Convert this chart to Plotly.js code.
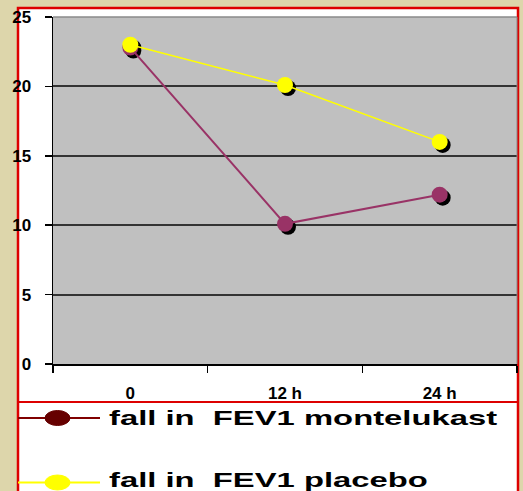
<!DOCTYPE html>
<html>
<head>
<meta charset="utf-8">
<script src="https://cdn.plot.ly/plotly-3.0.1.min.js"></script>
<style>
  html, body { margin: 0; padding: 0; background: #DDD6AB; }
  #chart { width: 523px; height: 491px; }
  .annotation-text { transform-box: fill-box; transform-origin: 0% 50%; transform: scaleX(1.64); }
</style>
</head>
<body>
<div id="chart"></div>
<script>
// ---- data ----
const times = ["0", "12 h", "24 h"];
const montelukast = [22.8, 10.1, 12.2];
const placebo = [23.0, 20.1, 16.0];
const seriesNames = ["fall in\u00a0 FEV1 montelukast", "fall in\u00a0 FEV1 placebo"];

// ---- layout helpers (pixel -> paper) ----
const W = 523, H = 491;
const L = 53, R = 6, T = 17, B = 127;
const pw = W - L - R, ph = H - T - B;
const px = x => (x - L) / pw;
const py = y => (H - B - y) / ph;

const yRange = [0, 25];
const xRange = [-0.5, 2.5];
const sdx = 3 * (xRange[1] - xRange[0]) / pw;   // shadow offset (3px right)
const sdy = 3 * (yRange[1] - yRange[0]) / ph;   // shadow offset (3px down)

const tickFont = {family: "Liberation Sans, Arial, sans-serif", size: 17, color: "#000", weight: 700};
const mColor = "#993366", pColor = "#FFFF00";

const data = [
  // invisible anchor trace so the visible axes (x, y) are drawn
  {x: times, y: montelukast, xaxis: "x", yaxis: "y", type: "scatter", mode: "markers",
   marker: {color: "rgba(0,0,0,0)", size: 1}, hoverinfo: "skip", showlegend: false},
  // shadows
  {x: times, y: montelukast, xaxis: "x2", yaxis: "y2", type: "scatter", mode: "markers",
   marker: {color: "#000", size: 16}, hoverinfo: "skip", showlegend: false},
  {x: times, y: placebo, xaxis: "x2", yaxis: "y2", type: "scatter", mode: "markers",
   marker: {color: "#000", size: 16}, hoverinfo: "skip", showlegend: false},
  // series
  {x: times, y: montelukast, xaxis: "x3", yaxis: "y3", type: "scatter", mode: "lines+markers",
   name: seriesNames[0], line: {color: mColor, width: 2}, marker: {color: mColor, size: 16}, showlegend: false},
  {x: times, y: placebo, xaxis: "x3", yaxis: "y3", type: "scatter", mode: "lines+markers",
   name: seriesNames[1], line: {color: pColor, width: 1.5}, marker: {color: pColor, size: 16}, showlegend: false}
];

const layout = {
  width: W, height: H,
  margin: {l: L, r: R, t: T, b: B, pad: 0},
  paper_bgcolor: "#DDD6AB",
  plot_bgcolor: "rgba(0,0,0,0)",
  showlegend: false,
  xaxis: {type: "category", categoryorder: "array", categoryarray: times, range: xRange,
    tickson: "boundaries", ticks: "outside", ticklen: 7, tickwidth: 1.5, tickcolor: "#000",
    showline: true, linecolor: "#000", linewidth: 1.5, showgrid: false, zeroline: false,
    tickfont: tickFont, ticklabelstandoff: 13, fixedrange: true},
  yaxis: {range: yRange, dtick: 5, tick0: 0, ticks: "outside", ticklen: 7, tickwidth: 1.5, tickcolor: "#000",
    showline: true, linecolor: "#000", linewidth: 1.5, showgrid: true, gridcolor: "#333333", gridwidth: 2,
    zeroline: false, tickfont: tickFont, ticklabelstandoff: 10, fixedrange: true},
  xaxis2: {type: "category", categoryorder: "array", categoryarray: times, overlaying: "x", anchor: "y2",
    range: [xRange[0] - sdx, xRange[1] - sdx], visible: false, fixedrange: true},
  yaxis2: {overlaying: "y", anchor: "x2", range: [yRange[0] + sdy, yRange[1] + sdy], visible: false, fixedrange: true},
  xaxis3: {type: "category", categoryorder: "array", categoryarray: times, overlaying: "x", anchor: "y3",
    range: xRange, visible: false, fixedrange: true},
  yaxis3: {overlaying: "y", anchor: "x3", range: yRange, visible: false, fixedrange: true},
  shapes: [
    {type: "rect", xref: "paper", yref: "paper", x0: px(18), x1: px(518), y0: py(505), y1: py(8),
     fillcolor: "#FFFFFF", line: {color: "#DD0000", width: 2.5}, layer: "below"},
    {type: "rect", xref: "paper", yref: "paper", x0: 0, x1: 1, y0: 0, y1: 1,
     fillcolor: "#C0C0C0", line: {width: 0}, layer: "below"},
    {type: "line", xref: "paper", yref: "paper", x0: 0, x1: 1, y0: 1, y1: 1,
     line: {color: "#8a8a8a", width: 1.5}, layer: "above"},
    {type: "line", xref: "paper", yref: "paper", x0: 1, x1: 1, y0: 0, y1: 1,
     line: {color: "#8a8a8a", width: 1}, layer: "above"},
    {type: "line", xref: "paper", yref: "paper", x0: px(17), x1: px(519), y0: py(402), y1: py(402),
     line: {color: "#DD0000", width: 2}, layer: "above"},
    // legend samples
    {type: "line", xref: "paper", yref: "paper", x0: px(18), x1: px(100), y0: py(418), y1: py(418),
     line: {color: "#800000", width: 2}, layer: "above"},
    {type: "circle", xref: "paper", yref: "paper", x0: px(45), x1: px(70), y0: py(425.5), y1: py(410.5),
     fillcolor: "#660000", line: {color: "#660000", width: 1}, layer: "above"},
    {type: "line", xref: "paper", yref: "paper", x0: px(18), x1: px(100), y0: py(482.5), y1: py(482.5),
     line: {color: "#FFFF00", width: 2}, layer: "above"},
    {type: "circle", xref: "paper", yref: "paper", x0: px(45), x1: px(70), y0: py(490), y1: py(475),
     fillcolor: "#FFFF00", line: {color: "#FFFF00", width: 1}, layer: "above"}
  ],
  annotations: [
    {xref: "paper", yref: "paper", x: px(107), y: py(418), xanchor: "left", yanchor: "middle",
     text: seriesNames[0], showarrow: false,
     font: {family: "Liberation Sans, Arial, sans-serif", size: 20, color: "#000", weight: 700}},
    {xref: "paper", yref: "paper", x: px(107), y: py(480.5), xanchor: "left", yanchor: "middle",
     text: seriesNames[1], showarrow: false,
     font: {family: "Liberation Sans, Arial, sans-serif", size: 20, color: "#000", weight: 700}}
  ]
};

Plotly.newPlot("chart", data, layout, {displayModeBar: false, staticPlot: true});
</script>
</body>
</html>
